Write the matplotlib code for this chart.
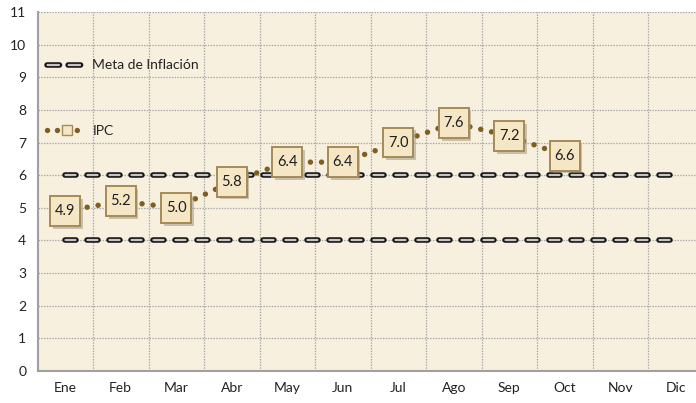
import matplotlib
matplotlib.use("Agg")
import matplotlib.pyplot as plt
import matplotlib.patheffects as pe
from matplotlib.lines import Line2D
import numpy as np

plt.rcParams['font.family'] = ['Lato', 'DejaVu Sans']
plt.rcParams['lines.scale_dashes'] = False

months = ["Ene", "Feb", "Mar", "Abr", "May", "Jun", "Jul", "Ago", "Sep", "Oct", "Nov", "Dic"]
ipc = [4.9, 5.2, 5.0, 5.8, 6.4, 6.4, 7.0, 7.6, 7.2, 6.6]
meta_low = [4] * 12
meta_high = [6] * 12
yticks = list(range(0, 12))

fig = plt.figure(figsize=(6.96, 4.03), dpi=100)
ax = fig.add_axes([37.5/696, 32/403, 666/696, 359/403])
ax.set_facecolor('#F7F0DF')

x = np.arange(len(months))
ax.set_xlim(-0.5, 11.5)
ax.set_ylim(0, 11)

# grid
for yv in yticks[1:]:
    ax.axhline(yv, color='#A5A5A5', lw=0.9, ls=(0, (1, 1)), zorder=1)
for xv in np.arange(0.5, 11.5, 1):
    ax.axvline(xv, color='#A5A5A5', lw=0.9, ls=(0, (1, 1)), zorder=1)

# meta lines (capsule style)
outer_kw = dict(color='#161616', lw=4.0, dash_capstyle='round', solid_capstyle='round', zorder=3)
inner_kw = dict(color='#C4C4C4', lw=1.6, dash_capstyle='round', solid_capstyle='round', zorder=4)
outer_d = (0, (7.9, 7.94))
inner_d = (15.49, (7.2, 8.64))
for vals in (meta_high, meta_low):
    ax.plot(x, vals, ls=outer_d, **outer_kw)
    ax.plot(x, vals, ls=inner_d, **inner_kw)

# IPC line
ipc_color = '#7E5E22'
xi = x[:len(ipc)]
ax.plot(xi, ipc, color=ipc_color, lw=3.9, ls=(0, (0.05, 7.95)), dash_capstyle='round', zorder=5)
ax.plot(xi, ipc, ls='none', marker='s', markersize=21.5, markerfacecolor='#F5E7C6',
        markeredgecolor='#A48B58', markeredgewidth=1.4, zorder=6,
        path_effects=[pe.SimplePatchShadow(offset=(2, -2), shadow_rgbFace='#9A9080', alpha=0.5), pe.Normal()])
for xx, v in zip(xi, ipc):
    ax.text(xx, v, f"{v:.1f}", ha='center', va='center', fontsize=10.5, color='#1E1E1E', zorder=7)

# axes style
ax.set_xticks(x)
ax.set_xticklabels(months, fontsize=10, color='#222222')
ax.set_yticks(yticks)
ax.set_yticklabels([str(v) for v in yticks], fontsize=10, color='#222222')
ax.tick_params(length=0, pad=8)
ax.tick_params(axis='x', pad=8)
for s in ('top', 'right'):
    ax.spines[s].set_visible(False)
for s in ('left', 'bottom'):
    ax.spines[s].set_color('#A0A0A0')
    ax.spines[s].set_linewidth(1.5)

# legend
h_meta = (Line2D([0], [0], ls=(0, (9.0, 6.2)), **outer_kw),
          Line2D([0], [0], ls=(15.2 - 0.4, (8.2, 7.0)), **inner_kw))
h_ipc = (Line2D([0], [0], color=ipc_color, lw=3.9, ls=(0, (0.05, 7.1)), dash_capstyle='round'),
         Line2D([0], [0], ls='none', marker='s', markersize=7, markerfacecolor='#F5E7C6',
                markeredgecolor='#A48B58', markeredgewidth=1.0))
leg = ax.legend([h_meta, h_ipc], ["Meta de Inflación", "IPC"], loc='upper left',
                bbox_to_anchor=(0.0, 0.895), frameon=False, fontsize=10,
                handlelength=2.8, handletextpad=0.45, labelspacing=3.85, borderaxespad=0.3,
                numpoints=1)
for t in leg.get_texts():
    t.set_color('#222222')

fig.savefig("out.png", dpi=100)
